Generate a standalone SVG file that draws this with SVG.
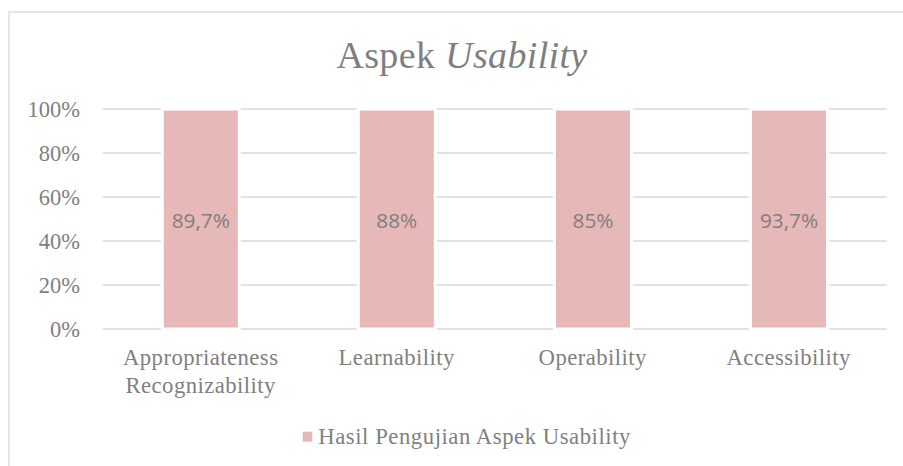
<svg xmlns="http://www.w3.org/2000/svg" width="903" height="466" viewBox="0 0 903 466">
  <style>
    .frame { fill: #ffffff; stroke: #d9d9d9; stroke-width: 1.3; }
    .grid { stroke: #d9d9d9; stroke-width: 1.3; }
    .bar { fill: #e6b8b7; stroke: #ffffff; stroke-width: 3; }
    .serif { font-family: "Liberation Serif", "Times New Roman", serif; fill: #7f7f7f; }
    .title { font-size: 38px; letter-spacing: 0.35px; }
    .axis { font-size: 22.5px; text-anchor: end; }
    .cat { font-size: 22.7px; letter-spacing: 0.45px; text-anchor: middle; }
    .legend { font-size: 22.7px; letter-spacing: 0.55px; }
    .val { font-family: "Open Sans", "Noto Sans", sans-serif; font-size: 20.8px; fill: #7f7f7f; text-anchor: middle; }
  </style>

  <rect width="903" height="466" fill="#ffffff"/>
  <!-- chart frame, running off the right and bottom edges -->
  <rect class="frame" x="9" y="12" width="920" height="480"/>

  <!-- title -->
  <text class="serif title" x="462" y="68" text-anchor="middle">Aspek <tspan font-style="italic">Usability</tspan></text>

  <!-- horizontal gridlines, 0% to 100% -->
  <g id="gridlines">
    <line class="grid" x1="102.7" y1="109" x2="886.7" y2="109"/>
    <line class="grid" x1="102.7" y1="153" x2="886.7" y2="153"/>
    <line class="grid" x1="102.7" y1="197" x2="886.7" y2="197"/>
    <line class="grid" x1="102.7" y1="241" x2="886.7" y2="241"/>
    <line class="grid" x1="102.7" y1="285" x2="886.7" y2="285"/>
    <line class="grid" x1="102.7" y1="329" x2="886.7" y2="329"/>
  </g>

  <!-- value axis labels -->
  <g id="value-axis" class="serif axis">
    <text x="80" y="117">100%</text>
    <text x="80" y="161">80%</text>
    <text x="80" y="205">60%</text>
    <text x="80" y="249">40%</text>
    <text x="80" y="293">20%</text>
    <text x="80" y="337">0%</text>
  </g>

  <!-- bars with data labels -->
  <g id="bar-appropriateness">
    <rect class="bar" x="162.3" y="109" width="77" height="220"/>
    <text class="val" x="200.8" y="228">89,7%</text>
  </g>
  <g id="bar-learnability">
    <rect class="bar" x="358.3" y="109" width="77" height="220"/>
    <text class="val" x="396.8" y="228">88%</text>
  </g>
  <g id="bar-operability">
    <rect class="bar" x="554.5" y="109" width="77" height="220"/>
    <text class="val" x="593" y="228">85%</text>
  </g>
  <g id="bar-accessibility">
    <rect class="bar" x="750.5" y="109" width="77" height="220"/>
    <text class="val" x="789" y="228">93,7%</text>
  </g>

  <!-- category axis labels -->
  <g id="category-axis" class="serif cat">
    <text x="200.7" y="365">Appropriateness</text>
    <text x="200.7" y="393">Recognizability</text>
    <text x="396.7" y="365">Learnability</text>
    <text x="592.7" y="365">Operability</text>
    <text x="788.7" y="365">Accessibility</text>
  </g>

  <!-- legend -->
  <g id="legend">
    <rect x="302.7" y="431.7" width="9.6" height="10" fill="#e6b8b7"/>
    <text class="serif legend" x="318.3" y="443.5">Hasil Pengujian Aspek Usability</text>
  </g>
</svg>
